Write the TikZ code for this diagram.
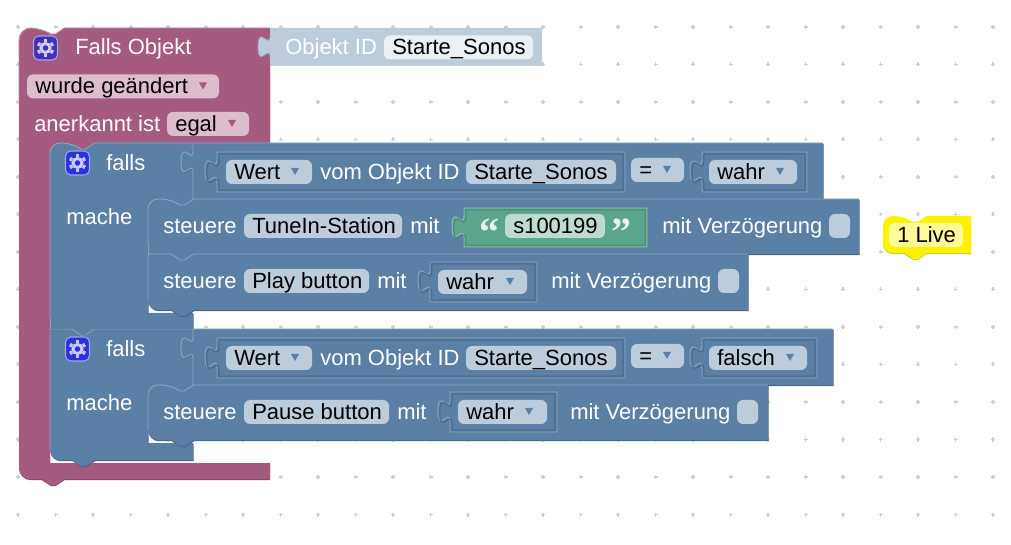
\documentclass[tikz,border=0pt]{standalone}
\usepackage{fontspec}
\setmainfont{Liberation Sans}
\newfontfamily\quotefont{Liberation Serif}[BoldFont={Liberation Serif Bold}]
\definecolor{blockblue}{HTML}{5B80A5}
\definecolor{bluelight}{HTML}{8CA6C0}
\definecolor{bluedark}{HTML}{496684}
\definecolor{fieldblue}{HTML}{BDCCDB}
\definecolor{blockpurple}{HTML}{A55B80}
\definecolor{purplelight}{HTML}{C08CA6}
\definecolor{purpledark}{HTML}{844966}
\definecolor{fieldpurple}{HTML}{DBBDCC}
\definecolor{blockgreen}{HTML}{5BA58C}
\definecolor{greenlight}{HTML}{8CC0AE}
\definecolor{greendark}{HTML}{498470}
\definecolor{fieldgreen}{HTML}{BDDBD1}
\definecolor{dotgrey}{HTML}{D0D0D0}
\definecolor{iconpurple}{HTML}{4231B8}
\definecolor{iconblue}{HTML}{2A33E0}

% value block with its puzzle tab on the left: x0 y0 x1 y1
\newcommand{\valpath}[4]{(#1,#2) -- (#1,#2+7.5) .. controls (#1,#2+22.5) and (#1-12,#2-4.5) .. (#1-12,#2+18.75) .. controls (#1-12,#2+42) and (#1,#2+15) .. (#1,#2+30) -- (#1,#4) -- (#3,#4) -- (#3,#2) -- cycle}
% value block with double edge: x0 y0 x1 y1 fill light dark
\newcommand{\valblock}[7]{
    \fill[#5] \valpath{#1}{#2}{#3}{#4};
    \draw[#6, line width=.7pt] \valpath{#1}{#2}{#3}{#4};
    \draw[#7, line width=.7pt] \valpath{#1+1.8}{#2+1.8}{#3-1.8}{#4-1.8};
}
% statement block: x0 y0 x1 y1 top radius, bottom radius
\newcommand{\stmtblock}[6]{
    \path[blueshape] (#1,#2+20) [rounded corners=#5] -- (#1,#2) -- (#1+23,#2) [sharp corners] -- (#1+32,#2+6) -- (#1+36.5,#2+6) -- (#1+45.5,#2) -- (#3,#2) -- (#3,#4) -- (#1+45.5,#4) -- (#1+36.5,#4+6) -- (#1+32,#4+6) -- (#1+23,#4) [rounded corners=#6] -- (#1,#4) -- cycle;
    \draw[bluehi] (#1,#4-10) -- (#1,#2+20) [rounded corners=#5] -- (#1,#2) -- (#1+23,#2) [sharp corners] -- (#1+32,#2+6) -- (#1+36.5,#2+6) -- (#1+45.5,#2) -- (#3,#2);
}
% falls block: top y, header bottom, arm top, bottom y, top radius, bottom radius
\newcommand{\fallsblock}[6]{
    \path[blueshape] (50,#1+30) [rounded corners=#5] -- (50,#1) -- (72,#1) [sharp corners] -- (81,#1+6) -- (85.5,#1+6) -- (94.5,#1) -- (193,#1) -- (193,#2+10) -- (148,#2+10) -- (148,#3) -- (193,#3) -- (193,#4) -- (94.5,#4) -- (85.5,#4+6) -- (81,#4+6) -- (72,#4) [rounded corners=#6] -- (50,#4) -- cycle;
    \draw[bluehi] (50,#4-10) -- (50,#1+30) [rounded corners=#5] -- (50,#1) -- (72,#1) [sharp corners] -- (81,#1+6) -- (85.5,#1+6) -- (94.5,#1) -- (193,#1);
}
% dropdown field: name x0 x1 centre text fill
\newcommand{\fieldbox}[6]{
    \fill[#6, rounded corners=4.5pt] (#2,#4-12) rectangle (#3,#4+12);
    \node[fieldtext] (#1) at (#2+8,#4+6.5) {#5};
}
\newcommand{\ddarrow}[3]{\fill[#3] (#1-4,#2-4) -- (#1+4,#2-4) -- (#1,#2+3) -- cycle;}
% gear icon: x y fill
\newcommand{\gearicon}[3]{
    \draw[draw=#3!45!white, fill=#3, line width=.8pt, rounded corners=4pt] (#1-12,#2-12) rectangle (#1+12,#2+12);
    \draw[draw=#3!25!white, line width=2.2pt] (#1,#2) circle (3.4pt);
    \foreach \a in {30,90,...,330}
        \draw[draw=#3!25!white, line width=2.8pt] ({#1+6*cos(\a)},{#2+6*sin(\a)}) -- ({#1+8.8*cos(\a)},{#2+8.8*sin(\a)});
}

\begin{document}
\begin{tikzpicture}[
    x=.75pt, y=-.75pt,
    label/.style={text=white, font=\fontsize{16.5}{20}\selectfont, anchor=base west, inner sep=0pt, yshift=-.75pt},
    fieldtext/.style={text=black, font=\fontsize{16.5}{20}\selectfont, anchor=base west, inner sep=0pt, yshift=-.75pt},
    quotemark/.style={text=white!85!blockgreen, font=\quotefont\bfseries\fontsize{30}{30}\selectfont, anchor=base west, inner sep=0pt},
    griddot/.style={draw=dotgrey, line width=.9pt},
    blueshape/.style={fill=blockblue, preaction={fill=bluedark, transform canvas={xshift=.5pt,yshift=-.9pt}}},
    bluehi/.style={draw=bluelight, line width=.7pt},
    purpleshape/.style={fill=blockpurple, preaction={fill=purpledark, transform canvas={yshift=-.9pt}}},
    purplehi/.style={draw=purplelight, line width=.7pt}
]
    \useasboundingbox (0,0) rectangle (1011,545);
    \fill[white] (0,0) rectangle (1011,545);

    % Workspace grid
    \foreach \i in {0,...,26}
        \foreach \j in {0,...,13}
            \draw[griddot] (18+37.5*\i-2,27+37.5*\j) -- +(4,0) (18+37.5*\i,27+37.5*\j-2) -- +(0,4);

    % Falls Objekt
    \path[purpleshape] (19,100) [rounded corners=9pt] -- (19,28) -- (42,28) [sharp corners] -- (51,34) -- (55.5,34) -- (64.5,28) -- (270,28) -- (270,143) -- (100,143) -- (100,153) -- (50,153) -- (50,463) -- (270,463) -- (270,479) -- (64.5,479) -- (55.5,485) -- (51,485) -- (42,479) [rounded corners=9pt] -- (19,479) -- cycle;
    \draw[purplehi] (19,100) [rounded corners=9pt] -- (19,28) -- (42,28) [sharp corners] -- (51,34) -- (55.5,34) -- (64.5,28) -- (270,28);
    \gearicon{45.5}{48}{iconpurple}
    \node[label] (fallsobjekt) at (75,54) {Falls Objekt};
    \fieldbox{geaendert}{27}{219}{86.5}{wurde geändert}{fieldpurple}
    \ddarrow{203}{86.5}{blockpurple}
    \node[label] (anerkannt) at (34,130.5) {anerkannt ist};
    \fieldbox{egal}{167}{249}{124}{egal}{fieldpurple}
    \ddarrow{232}{124}{blockpurple}

    % Objekt ID
    \fill[fieldblue] \valpath{270}{28}{542}{66};
    \draw[bluelight, line width=.6pt] (270,35.5) .. controls (270,50.5) and (258,23.5) .. (258,46.75) .. controls (258,70) and (270,43) .. (270,58);
    \node[label] (objektid) at (285,54) {Objekt ID};
    \fieldbox{sonostop}{384}{533}{47.5}{Starte\_Sonos}{fieldblue!30!white}

    % First falls
    \fallsblock{143}{199}{313}{328}{7.5pt}{.01pt}
    \draw[bluehi] (50,318) -- (50,329);
    \gearicon{77.5}{163}{iconblue}
    \node[label] (falsa) at (106,169.5) {falls};
    \node[label] (machea) at (66,223.5) {mache};

    % Second falls
    \fallsblock{329}{385}{443}{460}{.01pt}{7.5pt}
    \gearicon{77.5}{349}{iconblue}
    \node[label] (falsb) at (106,355.5) {falls};
    \node[label] (macheb) at (66,409.5) {mache};

    % Conditions
    \path[blueshape] \valpath{193}{143}{823}{199};
    \draw[bluehi] (193,199) -- (193,173) .. controls (193,158) and (181,185) .. (181,161.75) .. controls (181,138.5) and (193,165.5) .. (193,150.5) -- (193,143) -- (823,143);
    \valblock{217}{152}{625}{192}{blockblue}{bluelight}{bluedark}
    \fieldbox{werta}{226}{312}{172}{Wert}{fieldblue}
    \ddarrow{295}{172}{blockblue}
    \node[label] (vomobjekta) at (320,178.5) {vom Objekt ID};
    \fieldbox{sonosa}{466}{616}{172}{Starte\_Sonos}{fieldblue}
    \fieldbox{equala}{631}{684}{170}{=}{fieldblue}
    \ddarrow{667}{170}{blockblue}
    \valblock{702}{152}{807}{192}{blockblue}{bluelight}{bluedark}
    \fieldbox{wahra}{709}{797}{172}{wahr}{fieldblue}
    \ddarrow{780}{172}{blockblue}

    \path[blueshape] \valpath{193}{329}{833}{385};
    \draw[bluehi] (193,385) -- (193,359) .. controls (193,344) and (181,371) .. (181,347.75) .. controls (181,324.5) and (193,351.5) .. (193,336.5) -- (193,329) -- (833,329);
    \valblock{217}{338}{625}{378}{blockblue}{bluelight}{bluedark}
    \fieldbox{wertb}{226}{312}{358}{Wert}{fieldblue}
    \ddarrow{295}{358}{blockblue}
    \node[label] (vomobjektb) at (320,364.5) {vom Objekt ID};
    \fieldbox{sonosb}{466}{616}{358}{Starte\_Sonos}{fieldblue}
    \fieldbox{equalb}{631}{684}{356}{=}{fieldblue}
    \ddarrow{667}{356}{blockblue}
    \valblock{702}{338}{817}{378}{blockblue}{bluelight}{bluedark}
    \fieldbox{falsch}{709}{807}{358}{falsch}{fieldblue}
    \ddarrow{790}{358}{blockblue}

    % Steuere TuneIn
    \stmtblock{148}{199}{859}{254}{7.5pt}{.01pt}
    \draw[bluehi] (148,244) -- (148,254);
    \node[label] (steuerea) at (163,232.5) {steuere};
    \fieldbox{tunein}{244}{402}{226}{TuneIn-Station}{fieldblue}
    \node[label] (mita) at (410,232.5) {mit};
    \valblock{464}{208}{647}{247}{blockgreen}{greenlight}{greendark}
    \node[quotemark] (quoteopen) at (479,246) {“};
    \fieldbox{station}{505}{605}{226}{s100199}{fieldgreen}
    \node[quotemark] (quoteclose) at (611,246) {”};
    \node[label] (verzoega) at (662,232.5) {mit Verzögerung};
    \fill[fieldblue, rounded corners=4.5pt] (829,214) rectangle (850,238);

    % Steuere Play
    \stmtblock{148}{254}{748}{310}{.01pt}{7.5pt}
    \node[label] (steuereb) at (163,287.5) {steuere};
    \fieldbox{playbtn}{244}{369}{281}{Play button}{fieldblue}
    \node[label] (mitb) at (377,287.5) {mit};
    \valblock{430}{262}{537}{302}{blockblue}{bluelight}{bluedark}
    \fieldbox{wahrb}{438}{527}{282}{wahr}{fieldblue}
    \ddarrow{510}{282}{blockblue}
    \node[label] (verzoegb) at (551,287.5) {mit Verzögerung};
    \fill[fieldblue, rounded corners=4.5pt] (718,269) rectangle (739,293);

    % Steuere Pause
    \stmtblock{148}{385}{768}{440}{7.5pt}{7.5pt}
    \node[label] (steuerec) at (163,418.5) {steuere};
    \fieldbox{pausebtn}{244}{389}{412}{Pause button}{fieldblue}
    \node[label] (mitc) at (397,418.5) {mit};
    \valblock{450}{392}{557}{432}{blockblue}{bluelight}{bluedark}
    \fieldbox{wahrc}{458}{547}{412}{wahr}{fieldblue}
    \ddarrow{529}{412}{blockblue}
    \node[label] (verzoegc) at (570,418.5) {mit Verzögerung};
    \fill[fieldblue, rounded corners=4.5pt] (737,400) rectangle (758,424);

    % Comment
    \path[fill=yellow, preaction={fill=yellow!80!black, transform canvas={yshift=-.8pt}}] (883,235) [rounded corners=7.5pt] -- (883,216) -- (904,216) [sharp corners] -- (913,222) -- (917.5,222) -- (926.5,216) -- (971,216) -- (971,253) -- (926.5,253) -- (917.5,259) -- (913,259) -- (904,253) [rounded corners=7.5pt] -- (883,253) -- cycle;
    \fieldbox{live}{889}{963}{235}{1 Live}{yellow!40!white}
\end{tikzpicture}
\end{document}
